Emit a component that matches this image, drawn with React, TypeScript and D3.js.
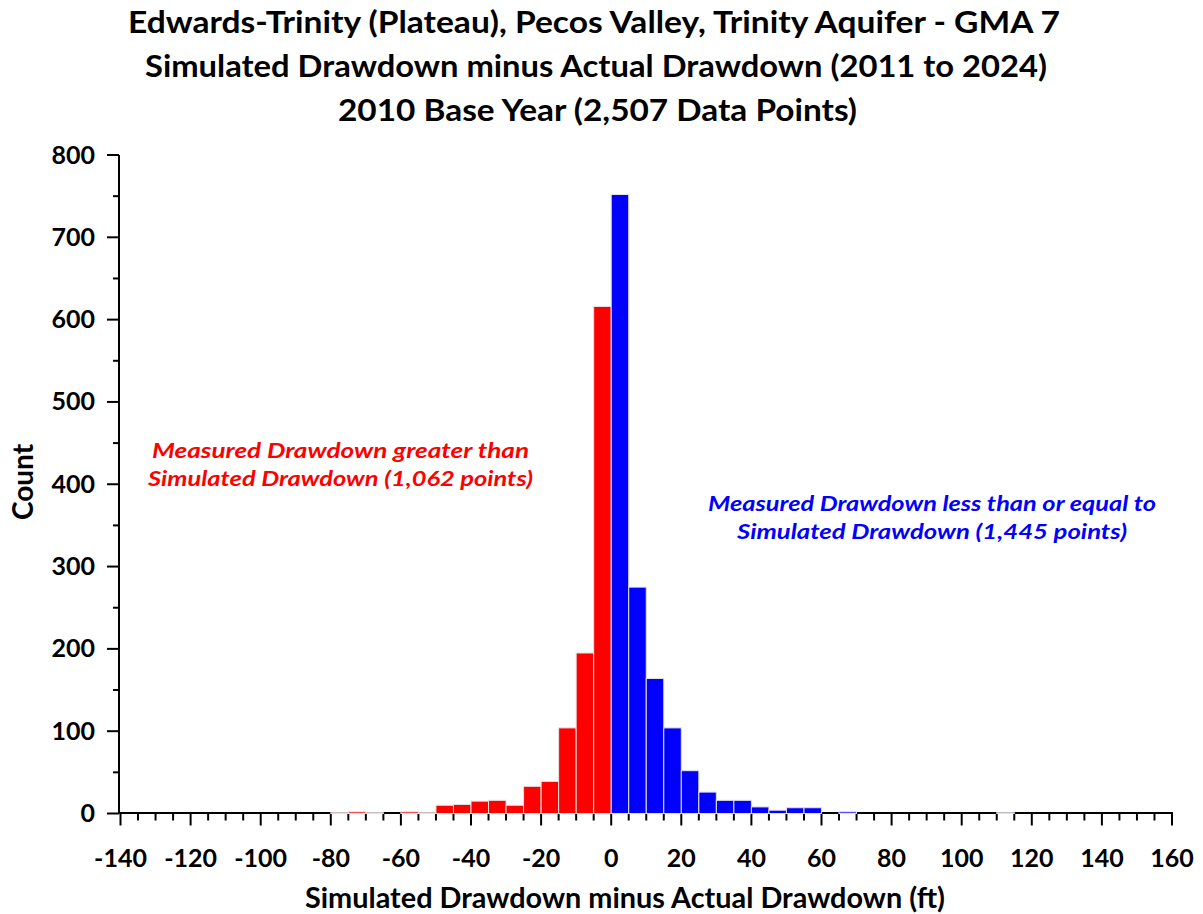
import React from "react";
import * as d3 from "d3";

const width = 1203;
const height = 914;
const margin = { top: 155, right: 31, bottom: 100.5, left: 120.5 };
const font = "Lato, 'Open Sans', sans-serif";

// lower edge of each 5 ft bin
const binStarts = [
  -140, -135, -130, -125, -120, -115, -110, -105, -100, -95,
  -90, -85, -80, -75, -70, -65, -60, -55, -50, -45,
  -40, -35, -30, -25, -20, -15, -10, -5, 0, 5,
  10, 15, 20, 25, 30, 35, 40, 45, 50, 55,
  60, 65, 70, 75, 80, 85, 90, 95, 100, 105,
  110, 115, 120, 125, 130, 135, 140, 145, 150, 155,
];
const counts = [
  0, 0, 0, 0, 0, 0, 0, 0, 0, 0,
  0, 0, 1, 2, 1, 0, 2, 1, 10, 11,
  15, 16, 10, 33, 39, 104, 195, 616, 752, 275,
  164, 104, 52, 26, 16, 16, 8, 4, 7, 7,
  0, 2, 0, 0, 0, 0, 0, 0, 0, 0,
  1, 0, 0, 0, 0, 0, 0, 0, 0, 0,
];
const binWidth = 5;

const xTicks = [
  -140, -135, -130, -125, -120, -115, -110, -105, -100, -95, -90, -85, -80, -75, -70, -65,
  -60, -55, -50, -45, -40, -35, -30, -25, -20, -15, -10, -5, 0, 5, 10, 15, 20, 25, 30, 35,
  40, 45, 50, 55, 60, 65, 70, 75, 80, 85, 90, 95, 100, 105, 110, 115, 120, 125, 130, 135,
  140, 145, 150, 155, 160,
];
const yTicks = [0, 50, 100, 150, 200, 250, 300, 350, 400, 450, 500, 550, 600, 650, 700, 750, 800];

const titleLines = [
  "Edwards-Trinity (Plateau), Pecos Valley, Trinity Aquifer - GMA 7",
  "Simulated Drawdown minus Actual Drawdown (2011 to 2024)",
  "2010 Base Year (2,507 Data Points)",
];
const redNote = ["Measured Drawdown greater than", "Simulated Drawdown (1,062 points)"];
const blueNote = ["Measured Drawdown less than or equal to", "Simulated Drawdown (1,445 points)"];

const x = d3
  .scaleLinear()
  .domain([-140, 160])
  .range([margin.left, width - margin.right]);
const y = d3
  .scaleLinear()
  .domain([0, 800])
  .range([height - margin.bottom, margin.top]);

export default function App() {
  const y0 = y(0);
  const titleLayout = [
    { y: 33, len: 932, cx: 594 },
    { y: 76.5, len: 902, cx: 596 },
    { y: 120.5, len: 519, cx: 597.5 },
  ];
  return (
    <svg
      width={width}
      height={height}
      style={{ position: "absolute", left: 0, top: 0, background: "#fff" }}
      fontFamily={font}
      fontWeight={700}
    >
      <rect width={width} height={height} fill="#fff" />

      {titleLines.map((t, i) => (
        <text
          key={t}
          x={titleLayout[i].cx}
          y={titleLayout[i].y}
          textAnchor="middle"
          fontSize={30}
          textLength={titleLayout[i].len}
          lengthAdjust="spacingAndGlyphs"
        >
          {t}
        </text>
      ))}

      {/* y axis */}
      <line x1={margin.left - 1.5} x2={margin.left - 1.5} y1={y(800)} y2={y0} stroke="#000" strokeWidth={2} />
      {yTicks.map(v => (
        <g key={v}>
          <line
            x1={margin.left - 1.5 - (v % 100 === 0 ? 12 : 6)}
            x2={margin.left - 1.5}
            y1={y(v)}
            y2={y(v)}
            stroke="#000"
            strokeWidth={2}
          />
          {v % 100 === 0 && (
            <text x={95} y={y(v) + 8.5} textAnchor="end" fontSize={25}>
              {v}
            </text>
          )}
        </g>
      ))}

      {/* x axis */}
      <line x1={x(-140) - 1} x2={x(160) + 1} y1={y0 - 0.5} y2={y0 - 0.5} stroke="#000" strokeWidth={2} />
      {xTicks.map(v => (
        <g key={v}>
          <line
            x1={x(v)}
            x2={x(v)}
            y1={y0 - 0.5}
            y2={y0 + (v % 20 === 0 ? 12 : 7)}
            stroke="#000"
            strokeWidth={2}
          />
          {v % 20 === 0 && (
            <text x={x(v)} y={867} textAnchor="middle" fontSize={25}>
              {v}
            </text>
          )}
        </g>
      ))}

      {/* bars */}
      {binStarts.map((b, i) =>
        counts[i] > 0 ? (
          <rect
            key={b}
            x={x(b)}
            width={x(b + binWidth) - x(b)}
            y={y(counts[i])}
            height={y0 - y(counts[i])}
            fill={b < 0 ? "#ff0000" : "#0000ff"}
            stroke="#e2e2e2"
            strokeWidth={1}
          />
        ) : null
      )}

      {/* axis titles */}
      <text
        x={625}
        y={908}
        textAnchor="middle"
        fontSize={28}
        textLength={640}
        lengthAdjust="spacingAndGlyphs"
      >
        Simulated Drawdown minus Actual Drawdown (ft)
      </text>
      <text transform="translate(33, 482) rotate(-90)" textAnchor="middle" fontSize={28}>
        Count
      </text>

      {/* notes */}
      {redNote.map((t, i) => (
        <text
          key={t}
          x={340.5}
          y={458 + i * 27.5}
          textAnchor="middle"
          fontSize={21}
          fontStyle="italic"
          fill="#ff0000"
          textLength={i === 0 ? 377 : 385}
          lengthAdjust="spacingAndGlyphs"
        >
          {t}
        </text>
      ))}
      {blueNote.map((t, i) => (
        <text
          key={t}
          x={932}
          y={511 + i * 27.5}
          textAnchor="middle"
          fontSize={21}
          fontStyle="italic"
          fill="#0000ff"
          textLength={i === 0 ? 448 : 390}
          lengthAdjust="spacingAndGlyphs"
        >
          {t}
        </text>
      ))}
    </svg>
  );
}
